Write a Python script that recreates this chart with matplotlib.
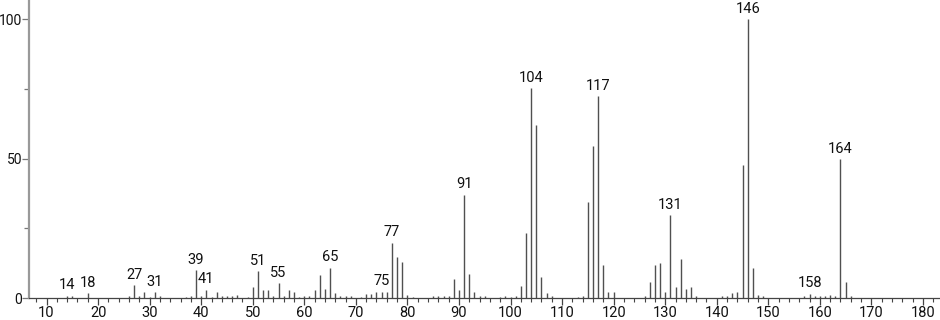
import matplotlib
matplotlib.use("Agg")
import matplotlib.pyplot as plt
from matplotlib.ticker import MultipleLocator

mz = [14, 15, 18, 26, 27, 28, 29, 30, 31, 32, 37, 38, 39, 40, 41, 42, 43, 44, 45, 46, 47,
      49, 50, 51, 52, 53, 54, 55, 56, 57, 58, 59, 60, 61, 62, 63, 64, 65, 66, 67, 68, 69,
      71, 72, 73, 74, 75, 76, 77, 78, 79, 80, 81, 85, 86, 87, 88, 89, 90, 91, 92, 93, 94, 95,
      98, 99, 100, 101, 102, 103, 104, 105, 106, 107, 108, 113, 114, 115, 116, 117, 118, 119, 120,
      126, 127, 128, 129, 130, 131, 132, 133, 134, 135, 136, 141, 142, 143, 144, 145, 146, 147,
      148, 149, 157, 158, 159, 160, 161, 162, 163, 164, 165, 166]
intensity = [0.8, 0.8, 1.8, 0.8, 4.6, 0.6, 2.2, 0.5, 2.0, 0.7, 0.5, 0.8, 9.9, 0.8, 3.0, 0.5, 2.2,
             0.6, 0.6, 0.6, 1.0, 0.5, 4.0, 9.6, 3.0, 3.0, 0.8, 5.3, 0.8, 3.0, 2.3, 0.5, 0.8, 0.7,
             3.0, 8.1, 3.2, 10.8, 1.8, 0.7, 0.7, 0.7, 0.5, 1.5, 1.5, 2.0, 2.2, 2.0, 19.9, 14.9,
             12.8, 1.0, 0.5, 0.6, 0.6, 0.8, 0.7, 6.8, 3.0, 37.0, 8.5, 2.0, 0.7, 0.6, 0.5, 0.6,
             0.5, 0.8, 4.2, 23.2, 75.3, 62.1, 7.7, 1.8, 0.8, 0.5, 0.8, 34.5, 54.6, 72.5, 11.9,
             2.2, 2.0, 0.8, 5.9, 11.9, 12.4, 2.0, 29.8, 4.1, 14.1, 3.3, 4.1, 0.8, 0.6, 0.7, 1.8,
             2.3, 47.8, 100.0, 10.9, 1.1, 0.6, 0.8, 1.5, 0.6, 0.8, 0.8, 0.9, 0.6, 49.9, 5.7, 0.8]
labeled = [14, 18, 27, 31, 39, 41, 51, 55, 65, 75, 77, 91, 104, 117, 131, 146, 158, 164]

plt.rcParams["font.family"] = ["Roboto", "DejaVu Sans"]

fig = plt.figure(figsize=(9.4, 3.2), dpi=100)
ax = fig.add_axes([29 / 940, 22 / 320, 911 / 940, 298 / 320])

ax.vlines(mz, 0, intensity, colors="#505050", linewidth=1.0)

lookup = dict(zip(mz, intensity))
for m in labeled:
    ax.annotate(str(m), (m, lookup[m]), xytext=(0, 2.5), textcoords="offset points",
                ha="center", va="bottom", fontsize=10.5, color="#111111")

ax.set_xlim(6.6, 183.3)
ax.set_ylim(0, 107)

ax.xaxis.set_major_locator(MultipleLocator(10))
ax.xaxis.set_minor_locator(MultipleLocator(2))
ax.set_yticks([0, 50, 100])
ax.yaxis.set_minor_locator(MultipleLocator(25))

ax.spines["top"].set_visible(False)
ax.spines["right"].set_visible(False)
ax.spines["left"].set_color("#999999")
ax.spines["left"].set_linewidth(1.6)
ax.spines["bottom"].set_color("#444444")
ax.spines["bottom"].set_linewidth(0.9)

ax.tick_params(axis="x", which="major", length=5, width=0.9, color="#444444",
               labelsize=10.5, pad=1, labelcolor="#111111")
ax.tick_params(axis="x", which="minor", length=3, width=0.8, color="#444444")
ax.tick_params(axis="y", which="major", length=5, width=0.9, color="#777777",
               labelsize=10, pad=0, labelcolor="#111111")
ax.tick_params(axis="y", which="minor", length=3.5, width=0.9, color="#777777")

fig.savefig("out.png", dpi=100)
